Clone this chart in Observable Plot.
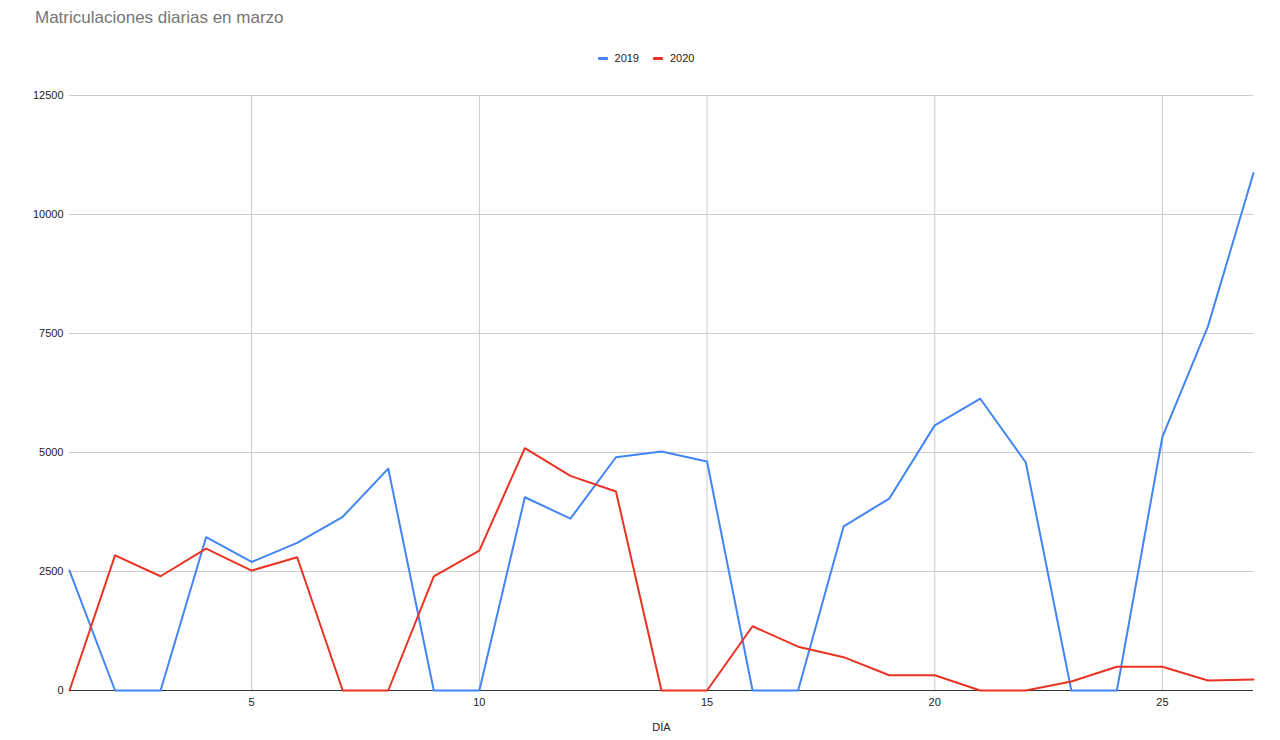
<!DOCTYPE html>
<html>
<head>
<meta charset="utf-8">
<script src="https://cdn.jsdelivr.net/npm/d3@7"></script>
<script src="https://cdn.jsdelivr.net/npm/@observablehq/plot@0.6"></script>
<style>
  body { margin: 0; background: #fff; font-family: "Liberation Sans", Arial, sans-serif; }
  #title { height: 36px; padding-left: 35px; padding-top: 8px; box-sizing: border-box; font-size: 17px; color: #757575; }
  #legend { height: 44px; display: flex; justify-content: center; align-items: center; gap: 14px; font-size: 11px; color: #222; padding-left: 12px; box-sizing: border-box; }
  .item { display: flex; align-items: center; gap: 7px; }
  .sw { width: 10px; height: 3px; border-radius: 1px; }
  svg { display: block; }
</style>
</head>
<body>
<div id="title">Matriculaciones diarias en marzo</div>
<div id="legend"></div>
<div id="chart"></div>
<script>
const days = d3.range(1, 28);
const series = ["2019", "2020"];
const colors = ["#4285F4", "#EA3323"];
const v2019 = [2520, 0, 0, 3220, 2700, 3100, 3650, 4660, 0, 0, 4060, 3610, 4900, 5020, 4810, 0, 0, 3450, 4030, 5570, 6130, 4790, 0, 0, 5330, 7650, 10870];
const v2020 = [0, 2840, 2400, 2980, 2520, 2800, 0, 0, 2400, 2940, 5090, 4510, 4180, 0, 0, 1350, 920, 700, 320, 320, 0, 0, 190, 500, 500, 210, 230];
const yTicks = [0, 2500, 5000, 7500, 10000, 12500];
const xTicks = [5, 10, 15, 20, 25];

const data = [];
days.forEach((d, i) => {
  data.push({dia: d, valor: v2019[i], serie: series[0]});
  data.push({dia: d, valor: v2020[i], serie: series[1]});
});

const legend = document.getElementById("legend");
series.forEach((s, i) => {
  const it = document.createElement("div");
  it.className = "item";
  it.innerHTML = `<span class="sw" style="background:${colors[i]}"></span><span>${s}</span>`;
  legend.appendChild(it);
});

const chart = Plot.plot({
  width: 1280,
  height: 660,
  marginLeft: 69,
  marginRight: 27,
  marginTop: 15,
  marginBottom: 50,
  style: { fontFamily: "Liberation Sans, Arial, sans-serif", fontSize: "11px", color: "#222" },
  x: { domain: [1, 27], label: "DÍA" },
  y: { domain: [0, 12500], label: null },
  color: { domain: series, range: colors },
  marks: [
    Plot.gridX(xTicks, { stroke: "#cccccc", strokeOpacity: 1, strokeWidth: 1 }),
    Plot.gridY(yTicks, { stroke: "#cccccc", strokeOpacity: 1, strokeWidth: 1 }),
    Plot.ruleY([0], { stroke: "#333333", strokeWidth: 1 }),
    Plot.axisX({ ticks: xTicks, tickSize: 0, tickPadding: 8, tickFormat: d => String(d), label: "DÍA", labelAnchor: "center", labelOffset: 40, labelArrow: "none" }),
    Plot.axisY({ ticks: yTicks, tickSize: 0, tickPadding: 6, tickFormat: d => String(d), label: null }),
    Plot.line(data, { x: "dia", y: "valor", z: "serie", stroke: "serie", strokeWidth: 2, strokeLinejoin: "round" })
  ]
});
document.getElementById("chart").appendChild(chart);
</script>
</body>
</html>
